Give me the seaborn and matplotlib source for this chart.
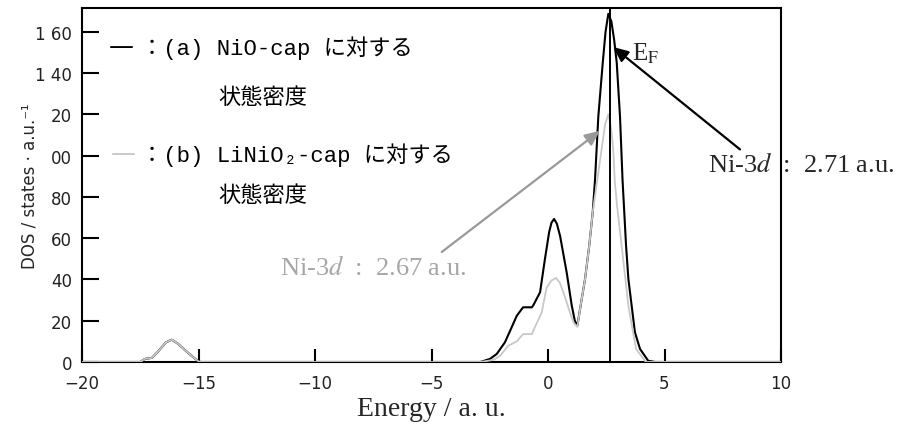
import numpy as np
import pandas as pd
import matplotlib
matplotlib.use("Agg")
import matplotlib.pyplot as plt
import seaborn as sns

# DOS curves
energy_nio = [-20.0, -17.5, -17.3, -17.0, -16.7, -16.4, -16.15, -15.9, -15.6, -15.3, -15.0, -14.9,
              -2.9, -2.49, -2.2, -1.85, -1.56, -1.34, -1.07, -0.69, -0.63, -0.34, -0.13, 0.05, 0.15,
              0.26, 0.38, 0.52, 0.8, 1.02, 1.15, 1.26, 1.40, 1.59, 1.77, 1.92, 2.02, 2.16, 2.35,
              2.47, 2.59, 2.72, 2.84, 2.95, 3.09, 3.2, 3.35, 3.45, 3.59, 3.73, 3.95, 4.3, 4.6, 10.0]
dos_nio = [0, 0, 1.5, 2.0, 5.5, 9.5, 10.8, 9.0, 6.0, 3.0, 0.3, 0,
           0, 1.5, 3.9, 9.5, 16.8, 22.4, 26.5, 26.5, 27.5, 33.8, 50, 63, 67.5,
           69.3, 67, 61, 43.5, 27.3, 20, 17.6, 27.3, 40.2, 56.4, 72.6, 88.7, 119, 145,
           160, 168.7, 165, 156, 145, 119, 88, 56.4, 40.2, 27.3, 14.4, 6.3, 0.6, 0, 0]

energy_linio2 = [-20.0, -17.5, -17.3, -17.0, -16.7, -16.4, -16.15, -15.9, -15.6, -15.3, -15.0, -14.9,
                 -2.9, -2.35, -2.06, -1.7, -1.34, -1.07, -0.69, -0.63, -0.27, -0.06, 0.15, 0.34,
                 0.5, 0.66, 0.94, 1.1, 1.26, 1.40, 1.59, 1.77, 1.92, 2.1, 2.3, 2.45, 2.59, 2.7,
                 2.8, 2.87, 2.97, 3.16, 3.45, 3.78, 4.2, 10.0]
dos_linio2 = [0, 0, 1.5, 2.0, 5.5, 9.5, 10.8, 9.0, 6.0, 3.0, 0.3, 0,
              0, 1.0, 3.0, 7.9, 10, 13.5, 13.5, 15.2, 24, 36, 39.5, 40.7,
              38.5, 33.8, 24, 19, 17, 27.3, 40.2, 56.4, 72.6, 87, 103, 115, 120, 114,
              103, 87, 75, 56.4, 27.3, 6.3, 0, 0]

fermi_level = 2.66
x_ticks = [-20, -15, -10, -5, 0, 5, 10]
y_ticks = [0, 20, 40, 60, 80, 100, 120, 140, 160]
y_tick_labels = ["0", "20", "40", "60", "80", "00", "20", "1 40", "1 60"]

nio_df = pd.DataFrame({"Energy": energy_nio, "DOS": dos_nio})
linio2_df = pd.DataFrame({"Energy": energy_linio2, "DOS": dos_linio2})

sns.set_style("white")
plt.rcParams["mathtext.fontset"] = "stix"
W, H = 911, 427
fig = plt.figure(figsize=(W / 100, H / 100), dpi=100)
ax = fig.add_axes([82 / W, 1 - 363 / H, (781 - 82) / W, (363 - 9) / H])

sns.lineplot(data=nio_df, x="Energy", y="DOS", ax=ax, color="black", linewidth=1.5,
             sort=False, estimator=None, zorder=2)
sns.lineplot(data=linio2_df, x="Energy", y="DOS", ax=ax, color="#c8c8c8", linewidth=1.3,
             sort=False, estimator=None, zorder=3)
ax.axvline(fermi_level, color="black", linewidth=1.4, zorder=4)

ax.set_xlim(-20, 10)
ax.set_ylim(0, 171.5)
ax.set_xticks(x_ticks)
ax.set_xticklabels([str(t).replace("-", "−") for t in x_ticks])
ax.set_yticks(y_ticks)
ax.set_yticklabels(y_tick_labels)
for s in ax.spines.values():
    s.set_color("black")
    s.set_linewidth(1.5)
ax.tick_params(axis="y", left=True, direction="in", length=12, width=1.5, pad=7,
               labelsize=12, colors="black")
ax.tick_params(axis="x", bottom=True, direction="in", length=9.5, width=1.5, pad=9,
               labelsize=12, colors="black")
for lab in ax.get_xticklabels() + ax.get_yticklabels():
    lab.set_color("#222222")

ax.set_xlabel("Energy / a. u.", fontsize=20, family="Liberation Serif")
ax.set_ylabel("DOS / states · a.u.⁻¹", fontsize=12, family="DejaVu Sans")
ax.xaxis.set_label_coords(0.5, -0.095)
ax.yaxis.set_label_coords(-0.062, 0.5)

# annotations
arrow_kw = dict(arrowstyle="-|>,head_length=0.9,head_width=0.4", lw=1.6, shrinkA=0, shrinkB=0)
ax.annotate("", xy=(2.80, 152.6), xytext=(8.24, 103), arrowprops=dict(color="black", **arrow_kw))
ax.text(6.87, 96, "Ni-3$d$  :  2.71 a.u.", fontsize=19, family="Liberation Serif",
        va="center", ha="left", clip_on=False)
ax.text(3.6, 150, r"E$_\mathrm{F}$", fontsize=18, family="Liberation Serif", va="center", ha="left")
ax.annotate("", xy=(2.23, 112), xytext=(-4.56, 53.3), arrowprops=dict(color="#999999", **arrow_kw))
ax.text(-11.5, 46, "Ni-3$d$  :  2.67 a.u.", fontsize=19, family="Liberation Serif",
        va="center", ha="left", color="#a6a6a6")

# legend text
leg_font = ["Liberation Mono", "Noto Sans CJK JP", "DejaVu Sans"]
def ft(x, y, s, color="black", family=leg_font, size=16):
    fig.text(x / W, 1 - y / H, s, fontsize=size, family=family, color=color, va="center", ha="left")

ft(109, 47, "—", family="DejaVu Sans", size=18)
ft(141, 48, "：(a) NiO-cap に対する")
ft(218, 99, "状態密度")
ft(111, 154, "—", color="#c8c8c8", family="DejaVu Sans", size=18)
ft(141, 155, "：(b) LiNiO₂-cap に対する")
ft(218, 197, "状態密度")

fig.savefig("out.png", dpi=100)
